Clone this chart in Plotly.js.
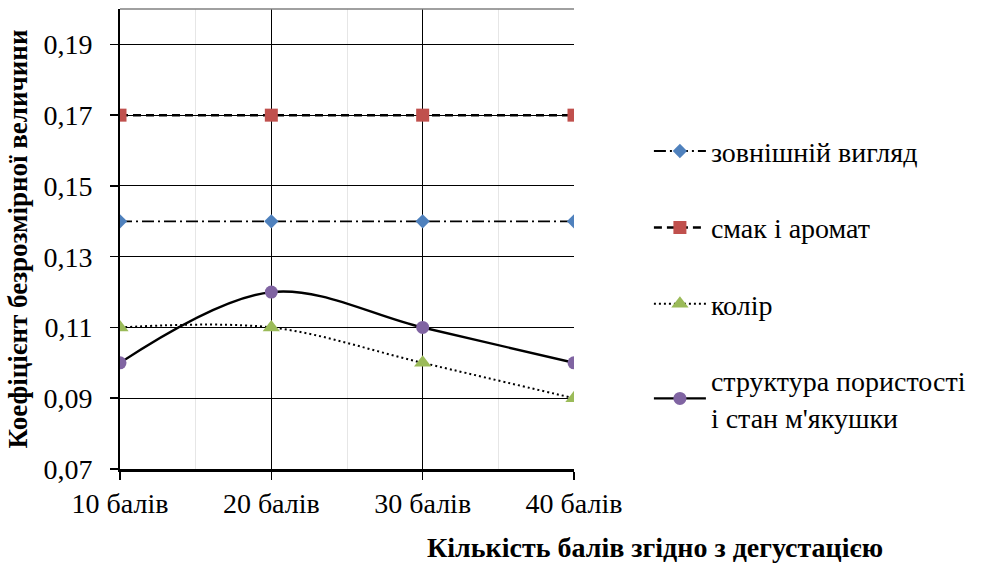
<!DOCTYPE html>
<html><head><meta charset="utf-8">
<script src="https://cdn.plot.ly/plotly-3.0.1.min.js"></script>
<style>html,body{margin:0;padding:0;background:#fff}#chart{width:984px;height:563px}</style>
</head><body><div id="chart"></div>
<script>
const points = [10, 20, 30, 40];
const categories = ["10 балів", "20 балів", "30 балів", "40 балів"];
const yTicks = [0.07, 0.09, 0.11, 0.13, 0.15, 0.17, 0.19];
const appearance = [0.14, 0.14, 0.14, 0.14];
const taste = [0.17, 0.17, 0.17, 0.17];
const colour = [0.11, 0.11, 0.10, 0.09];
const structure = [0.10, 0.12, 0.11, 0.10];
const names = ["зовнішній вигляд", "смак і аромат", "колір", "структура пористості<br>і стан м'якушки"];

const FONT = "Liberation Serif";
const traces = [
  {x: points, y: appearance, name: names[0], mode: "lines+markers", legendgroup: "a",
   line: {color: "#000", width: 1.8, dash: "12px,4px,2px,4px"},
   marker: {symbol: "diamond", size: 11, color: "#4F81BD"}},
  {x: points, y: taste, name: names[1], mode: "lines+markers", legendgroup: "b",
   line: {color: "#000", width: 2.5, dash: "8px,5px"},
   marker: {symbol: "square", size: 13, color: "#C0504D"}},
  {x: points, y: colour, name: names[2], mode: "lines+markers", legendgroup: "c",
   line: {color: "#000", width: 2, dash: "2px,3px", shape: "spline", smoothing: 1},
   marker: {symbol: "triangle-up", size: 15, color: "#9BBB59"}},
  {x: points, y: structure, name: names[3], mode: "lines+markers", legendgroup: "d",
   line: {color: "#000", width: 2.4, shape: "spline", smoothing: 1},
   marker: {symbol: "circle", size: 13, color: "#8064A2"}}
];

const layout = {
  width: 984, height: 563,
  margin: {l: 120, r: 410, t: 9, b: 94},
  paper_bgcolor: "#fff", plot_bgcolor: "#fff",
  font: {family: FONT, size: 28, color: "#000"},
  separators: ", ",
  showlegend: true,
  legend: {x: 1.165, y: 0.745, xanchor: "left", yanchor: "top", tracegroupgap: 37,
           itemwidth: 52,
           font: {family: FONT, size: 28, color: "#000"}, bgcolor: "rgba(0,0,0,0)"},
  xaxis: {range: [10, 40], tickvals: points, ticktext: categories,
          showgrid: true, gridcolor: "#000", gridwidth: 1,
          minor: {dtick: 5, showgrid: true, gridcolor: "#e6e6e6", gridwidth: 1},
          zeroline: false, showline: true, linecolor: "#000", linewidth: 2.5,
          ticks: "outside", ticklen: 8, tickcolor: "#000", tickwidth: 1.5,
          ticklabelstandoff: 0,
          tickfont: {family: FONT, size: 28, color: "#000"}, fixedrange: true},
  yaxis: {range: [0.07, 0.20], tickvals: yTicks, tickformat: ".2f",
          showgrid: true, gridcolor: "#000", gridwidth: 1,
          zeroline: false, showline: true, linecolor: "#000", linewidth: 2,
          ticks: "outside", ticklen: 8, tickcolor: "#000", tickwidth: 1.5,
          ticklabelstandoff: 12,
          tickfont: {family: FONT, size: 28, color: "#000"},
          title: {text: "<b>Коефіцієнт безрозмірної величини</b>", font: {family: FONT, size: 27, color: "#000"}, standoff: 8},
          fixedrange: true},
  shapes: [{type: "line", xref: "paper", yref: "paper", x0: 0, x1: 1, y0: 1, y1: 1,
            line: {color: "#808080", width: 1.5}}],
  annotations: [{xref: "paper", yref: "paper", x: 1.178, y: -0.17, xanchor: "center", yanchor: "middle",
                 showarrow: false, text: "<b>Кількість балів згідно з дегустацією</b>",
                 font: {family: FONT, size: 28, color: "#000"}}]
};
Plotly.newPlot("chart", traces, layout, {displayModeBar: false, staticPlot: true});
</script></body></html>
